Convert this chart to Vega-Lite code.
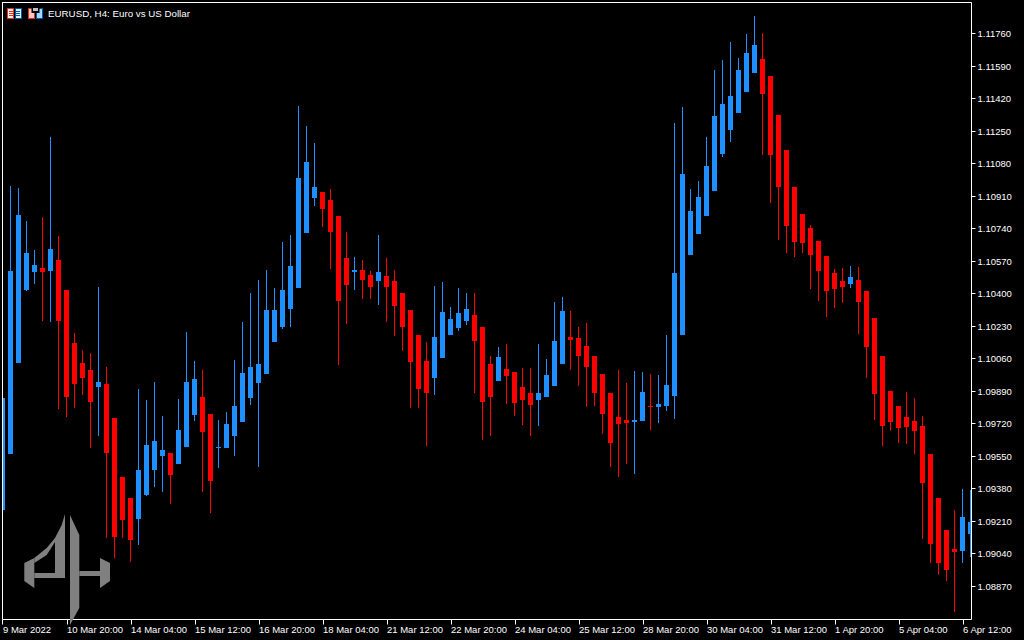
{"$schema":"https://vega.github.io/schema/vega-lite/v6.json","width":969,"height":617,"autosize":{"type":"none"},"padding":{"left":2,"top":2,"right":53,"bottom":21},"background":"#000000",
"title":{"text":"EURUSD, H4:  Euro vs US Dollar","anchor":"start","frame":"group","offset":-25,"dx":46,"color":"#ffffff","font":"Liberation Sans","fontSize":9.75,"fontWeight":"normal","baseline":"alphabetic"},
"config":{"view":{"stroke":"#ffffff","strokeWidth":1,"fill":"#000000"},"axis":{"tickColor":"#ffffff","labelColor":"#ffffff","labelFont":"Liberation Sans","labelFontSize":9.5,"labelOverlap":false,"labelFlush":false,"domain":false,"grid":false,"title":null}},
"datasets":{"candles":[
{"i":0,"o":1.09267,"h":1.09853,"l":1.09267,"c":1.09853,"d":"up"},
{"i":1,"o":1.0956,"h":1.1096,"l":1.0956,"c":1.10516,"d":"up"},
{"i":2,"o":1.10035,"h":1.1095,"l":1.10035,"c":1.10809,"d":"up"},
{"i":3,"o":1.10417,"h":1.10778,"l":1.10412,"c":1.1061,"d":"up"},
{"i":4,"o":1.10511,"h":1.10626,"l":1.10448,"c":1.10548,"d":"up"},
{"i":5,"o":1.10532,"h":1.10798,"l":1.10255,"c":1.10511,"d":"down"},
{"i":6,"o":1.10516,"h":1.11216,"l":1.1025,"c":1.10631,"d":"up"},
{"i":7,"o":1.10574,"h":1.10699,"l":1.09795,"c":1.10255,"d":"down"},
{"i":8,"o":1.10417,"h":1.10417,"l":1.09753,"c":1.09858,"d":"down"},
{"i":9,"o":1.1014,"h":1.10192,"l":1.098,"c":1.09926,"d":"down"},
{"i":10,"o":1.10035,"h":1.10103,"l":1.09868,"c":1.09957,"d":"down"},
{"i":11,"o":1.09999,"h":1.10088,"l":1.09591,"c":1.09832,"d":"down"},
{"i":12,"o":1.0991,"h":1.10433,"l":1.09654,"c":1.09936,"d":"up"},
{"i":13,"o":1.09926,"h":1.10015,"l":1.09121,"c":1.09565,"d":"down"},
{"i":14,"o":1.09748,"h":1.09748,"l":1.09016,"c":1.09126,"d":"down"},
{"i":15,"o":1.0944,"h":1.0944,"l":1.09121,"c":1.09215,"d":"down"},
{"i":16,"o":1.0933,"h":1.0933,"l":1.08995,"c":1.0911,"d":"down"},
{"i":17,"o":1.0922,"h":1.099,"l":1.09084,"c":1.09476,"d":"up"},
{"i":18,"o":1.09346,"h":1.09842,"l":1.0934,"c":1.09607,"d":"up"},
{"i":19,"o":1.09476,"h":1.09936,"l":1.09387,"c":1.09628,"d":"up"},
{"i":20,"o":1.09549,"h":1.09758,"l":1.09361,"c":1.09581,"d":"up"},
{"i":21,"o":1.09565,"h":1.09565,"l":1.09299,"c":1.0945,"d":"down"},
{"i":22,"o":1.09508,"h":1.09847,"l":1.09508,"c":1.09685,"d":"up"},
{"i":23,"o":1.09596,"h":1.10197,"l":1.09596,"c":1.09936,"d":"up"},
{"i":24,"o":1.09764,"h":1.10046,"l":1.09732,"c":1.09952,"d":"up"},
{"i":25,"o":1.09858,"h":1.09999,"l":1.09361,"c":1.09675,"d":"down"},
{"i":26,"o":1.09769,"h":1.09769,"l":1.09252,"c":1.09419,"d":"down"},
{"i":27,"o":1.09591,"h":1.09738,"l":1.09487,"c":1.09596,"d":"up"},
{"i":28,"o":1.09591,"h":1.09779,"l":1.09591,"c":1.09717,"d":"up"},
{"i":29,"o":1.09654,"h":1.10051,"l":1.09549,"c":1.09811,"d":"up"},
{"i":30,"o":1.09727,"h":1.1025,"l":1.09727,"c":1.09983,"d":"up"},
{"i":31,"o":1.09853,"h":1.10401,"l":1.09816,"c":1.10015,"d":"up"},
{"i":32,"o":1.09931,"h":1.10469,"l":1.09492,"c":1.1003,"d":"up"},
{"i":33,"o":1.09978,"h":1.10521,"l":1.09978,"c":1.10312,"d":"up"},
{"i":34,"o":1.10145,"h":1.10427,"l":1.10145,"c":1.10312,"d":"up"},
{"i":35,"o":1.10224,"h":1.10668,"l":1.10213,"c":1.10417,"d":"up"},
{"i":36,"o":1.10318,"h":1.10704,"l":1.10224,"c":1.10542,"d":"up"},
{"i":37,"o":1.10427,"h":1.11378,"l":1.10427,"c":1.11002,"d":"up"},
{"i":38,"o":1.10715,"h":1.11274,"l":1.10715,"c":1.11086,"d":"up"},
{"i":39,"o":1.10898,"h":1.11185,"l":1.10856,"c":1.10955,"d":"up"},
{"i":40,"o":1.10929,"h":1.10929,"l":1.10746,"c":1.1084,"d":"down"},
{"i":41,"o":1.10887,"h":1.10945,"l":1.10527,"c":1.1072,"d":"down"},
{"i":42,"o":1.10804,"h":1.10804,"l":1.10025,"c":1.10359,"d":"down"},
{"i":43,"o":1.10584,"h":1.1072,"l":1.10239,"c":1.10443,"d":"down"},
{"i":44,"o":1.10511,"h":1.10589,"l":1.10417,"c":1.10521,"d":"up"},
{"i":45,"o":1.10521,"h":1.10574,"l":1.1037,"c":1.10469,"d":"down"},
{"i":46,"o":1.10495,"h":1.10516,"l":1.1037,"c":1.10433,"d":"down"},
{"i":47,"o":1.10464,"h":1.10704,"l":1.10339,"c":1.10511,"d":"up"},
{"i":48,"o":1.1049,"h":1.10584,"l":1.1025,"c":1.10433,"d":"down"},
{"i":49,"o":1.10464,"h":1.10521,"l":1.10177,"c":1.10333,"d":"down"},
{"i":50,"o":1.10401,"h":1.10401,"l":1.10098,"c":1.10224,"d":"down"},
{"i":51,"o":1.10312,"h":1.10312,"l":1.098,"c":1.10041,"d":"down"},
{"i":52,"o":1.10182,"h":1.10182,"l":1.098,"c":1.099,"d":"down"},
{"i":53,"o":1.10046,"h":1.10145,"l":1.09602,"c":1.09879,"d":"down"},
{"i":54,"o":1.09957,"h":1.10438,"l":1.09868,"c":1.10171,"d":"up"},
{"i":55,"o":1.10062,"h":1.10459,"l":1.10062,"c":1.10302,"d":"up"},
{"i":56,"o":1.10182,"h":1.10328,"l":1.10182,"c":1.10265,"d":"up"},
{"i":57,"o":1.10218,"h":1.10427,"l":1.10203,"c":1.10297,"d":"up"},
{"i":58,"o":1.10255,"h":1.10401,"l":1.10234,"c":1.10318,"d":"up"},
{"i":59,"o":1.10286,"h":1.10401,"l":1.09879,"c":1.1015,"d":"down"},
{"i":60,"o":1.10224,"h":1.10224,"l":1.09633,"c":1.09832,"d":"down"},
{"i":61,"o":1.1003,"h":1.10072,"l":1.09654,"c":1.09858,"d":"down"},
{"i":62,"o":1.09941,"h":1.10119,"l":1.09941,"c":1.10067,"d":"up"},
{"i":63,"o":1.10004,"h":1.10135,"l":1.09821,"c":1.09968,"d":"down"},
{"i":64,"o":1.09988,"h":1.09988,"l":1.09758,"c":1.09826,"d":"down"},
{"i":65,"o":1.0991,"h":1.10009,"l":1.09711,"c":1.09842,"d":"down"},
{"i":66,"o":1.09879,"h":1.10009,"l":1.09654,"c":1.09816,"d":"down"},
{"i":67,"o":1.09842,"h":1.10135,"l":1.09706,"c":1.09879,"d":"up"},
{"i":68,"o":1.09858,"h":1.10056,"l":1.09858,"c":1.09973,"d":"up"},
{"i":69,"o":1.09915,"h":1.10354,"l":1.09915,"c":1.1015,"d":"up"},
{"i":70,"o":1.1003,"h":1.1038,"l":1.1003,"c":1.10307,"d":"up"},
{"i":71,"o":1.10171,"h":1.10307,"l":1.09999,"c":1.10156,"d":"down"},
{"i":72,"o":1.10166,"h":1.10224,"l":1.09915,"c":1.10072,"d":"down"},
{"i":73,"o":1.10124,"h":1.10245,"l":1.09806,"c":1.10015,"d":"down"},
{"i":74,"o":1.10072,"h":1.10072,"l":1.09811,"c":1.09879,"d":"down"},
{"i":75,"o":1.09978,"h":1.09978,"l":1.09664,"c":1.09769,"d":"down"},
{"i":76,"o":1.09879,"h":1.09879,"l":1.09492,"c":1.09617,"d":"down"},
{"i":77,"o":1.09753,"h":1.09999,"l":1.0944,"c":1.09717,"d":"down"},
{"i":78,"o":1.09738,"h":1.09931,"l":1.09508,"c":1.09722,"d":"down"},
{"i":79,"o":1.09727,"h":1.09994,"l":1.09455,"c":1.09738,"d":"up"},
{"i":80,"o":1.09732,"h":1.09988,"l":1.09732,"c":1.09884,"d":"up"},
{"i":81,"o":1.09811,"h":1.09978,"l":1.09685,"c":1.09806,"d":"down"},
{"i":82,"o":1.09806,"h":1.09973,"l":1.09722,"c":1.09821,"d":"up"},
{"i":83,"o":1.09811,"h":1.10182,"l":1.09785,"c":1.0992,"d":"up"},
{"i":84,"o":1.09863,"h":1.1129,"l":1.09743,"c":1.10506,"d":"up"},
{"i":85,"o":1.10182,"h":1.11373,"l":1.10182,"c":1.11023,"d":"up"},
{"i":86,"o":1.106,"h":1.10945,"l":1.106,"c":1.1083,"d":"up"},
{"i":87,"o":1.1071,"h":1.10986,"l":1.1071,"c":1.10903,"d":"up"},
{"i":88,"o":1.10804,"h":1.11216,"l":1.10804,"c":1.11065,"d":"up"},
{"i":89,"o":1.10934,"h":1.11567,"l":1.10934,"c":1.11326,"d":"up"},
{"i":90,"o":1.11128,"h":1.11619,"l":1.11112,"c":1.11389,"d":"up"},
{"i":91,"o":1.11253,"h":1.11713,"l":1.1119,"c":1.11431,"d":"up"},
{"i":92,"o":1.11342,"h":1.11629,"l":1.11342,"c":1.11567,"d":"up"},
{"i":93,"o":1.11452,"h":1.11755,"l":1.11452,"c":1.11655,"d":"up"},
{"i":94,"o":1.11551,"h":1.11849,"l":1.11551,"c":1.11697,"d":"up"},
{"i":95,"o":1.11624,"h":1.1176,"l":1.11123,"c":1.11441,"d":"down"},
{"i":96,"o":1.11535,"h":1.11535,"l":1.10872,"c":1.11123,"d":"down"},
{"i":97,"o":1.11331,"h":1.11331,"l":1.10678,"c":1.10955,"d":"down"},
{"i":98,"o":1.11149,"h":1.11149,"l":1.1061,"c":1.10751,"d":"down"},
{"i":99,"o":1.10955,"h":1.10955,"l":1.10589,"c":1.10668,"d":"down"},
{"i":100,"o":1.10814,"h":1.10814,"l":1.1061,"c":1.10663,"d":"down"},
{"i":101,"o":1.10741,"h":1.10757,"l":1.10422,"c":1.106,"d":"down"},
{"i":102,"o":1.10673,"h":1.10673,"l":1.10359,"c":1.10516,"d":"down"},
{"i":103,"o":1.10595,"h":1.10595,"l":1.10276,"c":1.10412,"d":"down"},
{"i":104,"o":1.10506,"h":1.10527,"l":1.10323,"c":1.10422,"d":"down"},
{"i":105,"o":1.10464,"h":1.10532,"l":1.10349,"c":1.10433,"d":"down"},
{"i":106,"o":1.10448,"h":1.10542,"l":1.10427,"c":1.10486,"d":"up"},
{"i":107,"o":1.10469,"h":1.10537,"l":1.10187,"c":1.10354,"d":"down"},
{"i":108,"o":1.10412,"h":1.10412,"l":1.09957,"c":1.10119,"d":"down"},
{"i":109,"o":1.10271,"h":1.10271,"l":1.09738,"c":1.09874,"d":"down"},
{"i":110,"o":1.10072,"h":1.10072,"l":1.09602,"c":1.09706,"d":"down"},
{"i":111,"o":1.0989,"h":1.0989,"l":1.0968,"c":1.09727,"d":"down"},
{"i":112,"o":1.09811,"h":1.09811,"l":1.09617,"c":1.09696,"d":"down"},
{"i":113,"o":1.09753,"h":1.09884,"l":1.09612,"c":1.09701,"d":"down"},
{"i":114,"o":1.09732,"h":1.09853,"l":1.0956,"c":1.0968,"d":"down"},
{"i":115,"o":1.09706,"h":1.09758,"l":1.09116,"c":1.09408,"d":"down"},
{"i":116,"o":1.0956,"h":1.0956,"l":1.0899,"c":1.0909,"d":"down"},
{"i":117,"o":1.0933,"h":1.0933,"l":1.08927,"c":1.0899,"d":"down"},
{"i":118,"o":1.09163,"h":1.09163,"l":1.08896,"c":1.08953,"d":"down"},
{"i":119,"o":1.09063,"h":1.09267,"l":1.08734,"c":1.09048,"d":"down"},
{"i":120,"o":1.09053,"h":1.09377,"l":1.0899,"c":1.09231,"d":"up"},
{"i":121,"o":1.09142,"h":1.09372,"l":1.09022,"c":1.09205,"d":"up"}
],
"logo":[
{"part":"wl","x":2.725,"y":1.08992,"y2":1.08898,"k":"logo"},{"part":"wl","x":3.975,"y":1.09018,"y2":1.08861,"k":"logo"},
{"part":"bl","x":3.975,"y":1.0894,"y2":1.08914,"k":"logo"},{"part":"bl","x":6.5625,"y":1.0894,"y2":1.08914,"k":"logo"},
{"part":"ar","x":3.975,"y":1.09018,"y2":1.08992,"k":"logo"},{"part":"ar","x":5.525,"y":1.09067,"y2":1.09032,"k":"logo"},{"part":"ar","x":6.5625,"y":1.09119,"y2":1.09099,"k":"logo"},
{"part":"sl","x":6.5625,"y":1.09119,"y2":1.08914,"k":"logo"},{"part":"sl","x":7.4,"y":1.09189,"y2":1.08914,"k":"logo"},{"part":"sl","x":7.8125,"y":1.09246,"y2":1.08914,"k":"logo"},
{"part":"sr","x":8.4375,"y":1.09241,"y2":1.08666,"k":"logo"},{"part":"sr","x":9.6,"y":1.09137,"y2":1.08754,"k":"logo"},
{"part":"br","x":9.6,"y":1.0895,"y2":1.08924,"k":"logo"},{"part":"br","x":12.1875,"y":1.0895,"y2":1.08924,"k":"logo"},
{"part":"wr","x":12.1875,"y":1.09018,"y2":1.08861,"k":"logo"},{"part":"wr","x":13.4375,"y":1.08992,"y2":1.08898,"k":"logo"}
],
"icons":[
{"x":0.5625,"x2":1.4375,"y":1.11891,"y2":1.11833,"k":"red"},
{"x":0.6875,"x2":1.3125,"y":1.11885,"y2":1.11838,"k":"pale"},
{"x":0.8125,"x2":1.3125,"y":1.11875,"y2":1.1187,"k":"red"},
{"x":0.8125,"x2":1.3125,"y":1.11865,"y2":1.11859,"k":"red"},
{"x":0.8125,"x2":1.3125,"y":1.11854,"y2":1.11849,"k":"red"},
{"x":1.5625,"x2":2.4375,"y":1.11891,"y2":1.11833,"k":"blue"},
{"x":1.6875,"x2":2.3125,"y":1.11885,"y2":1.11838,"k":"paleblue"},
{"x":1.6875,"x2":2.1875,"y":1.11875,"y2":1.1187,"k":"blue"},
{"x":1.6875,"x2":2.1875,"y":1.11865,"y2":1.11859,"k":"blue"},
{"x":1.6875,"x2":2.1875,"y":1.11854,"y2":1.11849,"k":"blue"},
{"x":3.1875,"x2":4.0625,"y":1.11891,"y2":1.11833,"k":"red"},
{"x":3.3125,"x2":3.9375,"y":1.11885,"y2":1.11838,"k":"pink"},
{"x":4.1875,"x2":5.0625,"y":1.11891,"y2":1.11833,"k":"blue"},
{"x":4.3125,"x2":4.9375,"y":1.11885,"y2":1.11838,"k":"sky"},
{"x":3.625,"x2":4.625,"y":1.11891,"y2":1.11865,"k":"black"},
{"x":3.8125,"x2":4.4375,"y":1.11891,"y2":1.11875,"k":"gray"}
],
"frame":[{"i":0,"h":1.1192205,"l":1.086976}]},
"layer":[
{"data":{"name":"logo"},"mark":{"type":"area","orient":"vertical","clip":false},"encoding":{
"x":{"field":"x","type":"quantitative","scale":{"domain":[-0.0625,121.0625],"nice":false,"zero":false,"padding":0},"axis":{"values":[0,8,16,24,32,40,48,56,64,72,80,88,96,104,112,120],"tickCount":16,"labelExpr":"['9 Mar 2022','10 Mar 20:00','14 Mar 04:00','15 Mar 12:00','16 Mar 20:00','18 Mar 04:00','21 Mar 12:00','22 Mar 20:00','24 Mar 04:00','25 Mar 12:00','28 Mar 20:00','30 Mar 04:00','31 Mar 12:00','1 Apr 20:00','5 Apr 04:00','6 Apr 12:00'][datum.value/8]","labelAlign":"left","labelBaseline":"top","labelPadding":0,"tickSize":5}},
"y":{"field":"y","type":"quantitative","scale":{"domain":[1.086976,1.1192205],"nice":false,"zero":false,"round":true,"padding":0},"axis":{"orient":"right","values":[1.1176,1.1159,1.1142,1.1125,1.1108,1.1091,1.1074,1.1057,1.104,1.1023,1.1006,1.0989,1.0972,1.0955,1.0938,1.0921,1.0904,1.0887],"tickCount":18,"format":".5f","tickSize":4,"labelPadding":2}},
"y2":{"field":"y2"},"detail":{"field":"part"},
"color":{"field":"k","type":"nominal","legend":null,"scale":{"domain":["up","down","logo","red","blue","pale","paleblue","pink","sky","black","gray"],"range":["#1E90FF","#FF0000","#808080","#E03020","#0058A8","#FFF0EC","#E4F2FF","#FFC8C0","#A0D8FF","#000000","#C0C0C0"]}}}},
{"data":{"name":"candles"},"mark":{"type":"rule","strokeWidth":1,"clip":true},"encoding":{
"x":{"field":"i","type":"quantitative","scale":{"domain":[-0.0625,121.0625],"nice":false,"zero":false,"padding":0}},
"y":{"field":"h","type":"quantitative","scale":{"domain":[1.086976,1.1192205],"nice":false,"zero":false,"round":true,"padding":0},"axis":{"orient":"right"}},
"y2":{"field":"l"},"color":{"field":"d","type":"nominal","legend":null}}},
{"data":{"name":"candles"},"mark":{"type":"bar","size":5,"orient":"vertical","clip":true},"encoding":{
"x":{"field":"i","type":"quantitative","scale":{"domain":[-0.0625,121.0625],"nice":false,"zero":false,"padding":0}},
"y":{"field":"o","type":"quantitative","scale":{"domain":[1.086976,1.1192205],"nice":false,"zero":false,"round":true,"padding":0},"axis":{"orient":"right"}},
"y2":{"field":"c"},"color":{"field":"d","type":"nominal","legend":null}}},
{"data":{"name":"icons"},"mark":{"type":"rect"},"encoding":{
"x":{"field":"x","type":"quantitative","scale":{"domain":[-0.0625,121.0625],"nice":false,"zero":false,"padding":0}},"x2":{"field":"x2"},
"y":{"field":"y","type":"quantitative","scale":{"domain":[1.086976,1.1192205],"nice":false,"zero":false,"round":true,"padding":0},"axis":{"orient":"right"}},"y2":{"field":"y2"},
"color":{"field":"k","type":"nominal","legend":null}}},
{"data":{"name":"frame"},"mark":{"type":"rule","color":"#ffffff","strokeWidth":1},"encoding":{"x":{"field":"i","type":"quantitative","scale":{"domain":[-0.0625,121.0625],"nice":false,"zero":false,"padding":0}},
"y":{"field":"h","type":"quantitative","scale":{"domain":[1.086976,1.1192205],"nice":false,"zero":false,"round":true,"padding":0},"axis":{"orient":"right"}},"y2":{"field":"l"}}}
]}
